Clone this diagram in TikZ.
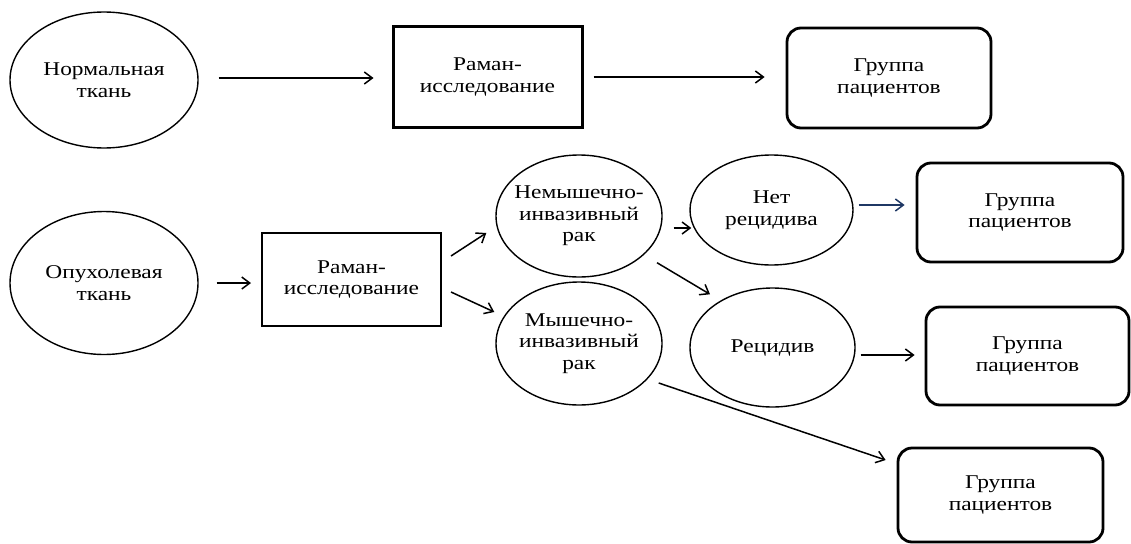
\documentclass[tikz,border=0pt]{standalone}
\usepackage{fontspec}
\setmainfont{Liberation Serif}[FakeStretch=1.2]
\usetikzlibrary{shapes.geometric,calc,arrows.meta}
\definecolor{navyarrow}{RGB}{31,56,100}

\begin{document}
\begin{tikzpicture}[x=1pt,y=-1pt,
  every node/.style={font=\fontsize{19.5}{21.5}\selectfont, align=center},
  oval/.style={draw, ellipse, line width=1.4pt, inner sep=-8pt},
  ramanbox/.style={draw, rectangle, inner sep=0pt},
  groupbox/.style={draw, rectangle, rounded corners=14pt, line width=2.8pt, inner sep=0pt},
  arr/.style={-{Straight Barb[length=8pt,width=12pt]}, line width=1.5pt}]
\useasboundingbox (0,0) rectangle (1131,543);

% normal tissue
\node[oval, minimum width=188pt, minimum height=136pt] (nt) at (104,80) {Нормальная\\ткань};
\node[ramanbox, line width=3pt, minimum width=189pt, minimum height=100pt] (rs1) at (487.5,77) {Раман-\\исследование};
\node[groupbox, minimum width=204pt, minimum height=100pt] (gp1) at (889,78) {Группа\\пациентов};

% tumour tissue
\node[oval, minimum width=188pt, minimum height=143pt] (ot) at (104,283) {Опухолевая\\ткань};
\node[ramanbox, line width=2pt, minimum width=179pt, minimum height=93pt] (rs2) at (351.5,279.5) {Раман-\\исследование};
\node[oval, minimum width=166pt, minimum height=122pt] (nmi) at (579,216) {Немышечно-\\инвазивный\\рак};
\node[oval, minimum width=166pt, minimum height=123pt] (mi) at (579,343.5) {Мышечно-\\инвазивный\\рак};
\node[oval, minimum width=163pt, minimum height=110pt] (nr) at (771.5,210) {Нет\\рецидива};
\node[oval, minimum width=165pt, minimum height=119pt] (rc) at (772.5,347.5) {Рецидив};
\node[groupbox, minimum width=206pt, minimum height=99pt] (gp2) at (1020,212.5) {Группа\\пациентов};
\node[groupbox, minimum width=203pt, minimum height=98pt] (gp3) at (1027.5,356) {Группа\\пациентов};
\node[groupbox, minimum width=205pt, minimum height=94pt] (gp4) at (1000.5,495) {Группа\\пациентов};

% arrows
\draw[arr] ($(nt.east)+(20,-2)$) -- ($(rs1.west)+(-18,1)$);
\draw[arr] ($(rs1.east)+(10,0)$) -- ($(gp1.west)+(-21,-1)$);
\draw[arr] ($(ot.east)+(18,0)$) -- ($(rs2.west)+(-10,3.5)$);
\draw[arr] ($(rs2.east)+(9,-23.5)$) -- ($(nmi.west)+(-9,17)$);
\draw[arr] ($(rs2.east)+(9,12.5)$) -- ($(mi.west)+(-1,-31.5)$);
\draw[arr] ($(nmi.east)+(11,12)$) -- ($(nr.west)+(2,18)$);
\draw[arr] ($(nmi.south)+(78,-15)$) -- ($(rc.north)+(-62.5,7)$);
\draw[arr] ($(mi.east)+(-4,39.5)$) -- ($(gp4.west)+(-11,-35)$);
\draw[arr, navyarrow] ($(nr.east)+(5,-5)$) -- ($(gp2.west)+(-11,-7.5)$);
\draw[arr] ($(rc.east)+(5,7.5)$) -- ($(gp3.west)+(-10,-1)$);
\end{tikzpicture}
\end{document}
